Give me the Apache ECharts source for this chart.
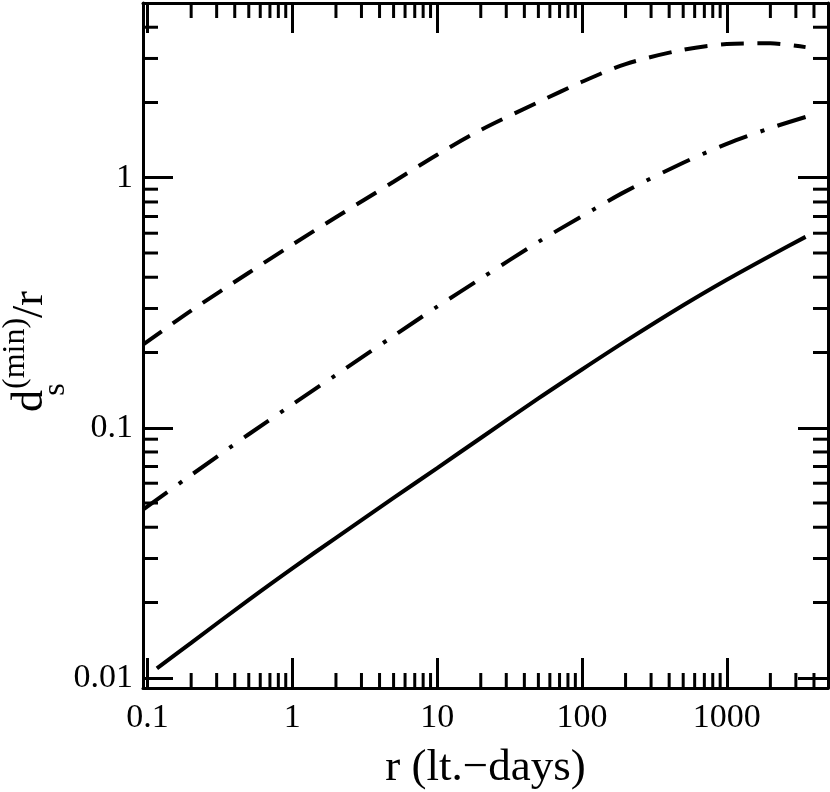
<!DOCTYPE html>
<html>
<head>
<meta charset="utf-8">
<script src="https://cdn.jsdelivr.net/npm/echarts@6/dist/echarts.min.js"></script>
<style>
  html, body { margin: 0; padding: 0; background: #fff; }
  #chart { width: 830px; height: 792px; }
</style>
</head>
<body>
<div id="chart"></div>
<script>
// axis ranges (both log)
var xRange = [0.093, 5000];
var yRange = [0.0091, 5];
var minorSteps = [2, 3, 4, 5, 6, 7, 8, 9];

// curves: r (lt.-days) and d_s(min)/r
var solidR = [0.116, 0.2, 0.5, 1, 2, 5, 10, 20, 50, 100, 200, 500, 1000, 2000, 3500];
var solidD = [0.0109, 0.0138, 0.0205, 0.0274, 0.0363, 0.0524, 0.069, 0.091, 0.131, 0.171, 0.222, 0.309, 0.391, 0.488, 0.58];

var dashR = [0.093, 0.2, 0.5, 1, 2, 5, 10, 20, 50, 100, 200, 500, 1000, 2000, 3500];
var dashD = [0.215, 0.294, 0.417, 0.540, 0.695, 0.964, 1.236, 1.552, 2.006, 2.42, 2.848, 3.252, 3.425, 3.449, 3.33];

var dotR = [0.093, 0.2, 0.5, 1, 2, 5, 10, 20, 50, 100, 200, 500, 1000, 2000, 3500];
var dotD = [0.0471, 0.0647, 0.0942, 0.124, 0.1626, 0.233, 0.305, 0.395, 0.554, 0.702, 0.882, 1.148, 1.365, 1.58, 1.75];

var FONT = 'Liberation Serif';

function pairs(xs, ys) {
  return xs.map(function (x, i) { return [x, ys[i]]; });
}

// minor tick positions 2..9 x 10^k inside a range
function minorTicks(range) {
  var out = [];
  for (var k = -3; k <= 4; k++) {
    minorSteps.forEach(function (m) {
      var v = m * Math.pow(10, k);
      if (v > range[0] && v < range[1]) out.push(v);
    });
  }
  return out;
}

function fmt(v) {
  return String(+(+v).toPrecision(4));
}

var tickStyle = { color: '#000', width: 3 };
var lineStyleAxis = { color: '#000', width: 3 };
var labelStyle = { fontFamily: FONT, fontSize: 34, color: '#000' };

function xMinorItem(params, api) {
  var v = api.value(0);
  var b = api.coord([v, yRange[0]]);
  var t = api.coord([v, yRange[1]]);
  var st = { stroke: '#000', lineWidth: 3 };
  return {
    type: 'group',
    children: [
      { type: 'line', shape: { x1: b[0], y1: b[1], x2: b[0], y2: b[1] - 15 }, style: st },
      { type: 'line', shape: { x1: t[0], y1: t[1], x2: t[0], y2: t[1] + 15 }, style: st }
    ]
  };
}

function yMinorItem(params, api) {
  var v = api.value(1);
  var l = api.coord([xRange[0], v]);
  var r = api.coord([xRange[1], v]);
  var st = { stroke: '#000', lineWidth: 3 };
  return {
    type: 'group',
    children: [
      { type: 'line', shape: { x1: l[0], y1: l[1], x2: l[0] + 15, y2: l[1] }, style: st },
      { type: 'line', shape: { x1: r[0], y1: r[1], x2: r[0] - 15, y2: r[1] }, style: st }
    ]
  };
}

var chart = echarts.init(document.getElementById('chart'));

var option = {
  backgroundColor: '#ffffff',
  animation: false,
  grid: { left: 143, right: 2, top: 3, bottom: 104, containLabel: false, outerBoundsMode: 'none' },
  xAxis: [{
    type: 'log',
    min: xRange[0],
    max: xRange[1],
    position: 'bottom',
    axisLine: { lineStyle: lineStyleAxis },
    axisTick: { inside: true, length: 30, lineStyle: tickStyle },
    axisLabel: Object.assign({ margin: 13, showMinLabel: false, showMaxLabel: false, formatter: fmt }, labelStyle),
    splitLine: { show: false },
    name: 'r (lt.\u2212days)',
    nameLocation: 'middle',
    nameGap: 58,
    nameMoveOverlap: false,
    nameTextStyle: { fontFamily: FONT, fontSize: 45, color: '#000' }
  }, {
    type: 'log',
    min: xRange[0],
    max: xRange[1],
    position: 'top',
    axisLine: { lineStyle: lineStyleAxis },
    axisTick: { inside: true, length: 30, lineStyle: tickStyle },
    axisLabel: { show: false },
    splitLine: { show: false }
  }],
  yAxis: [{
    type: 'log',
    min: yRange[0],
    max: yRange[1],
    position: 'left',
    axisLine: { lineStyle: lineStyleAxis },
    axisTick: { inside: true, length: 30, lineStyle: tickStyle },
    axisLabel: Object.assign({ margin: 10, showMinLabel: false, showMaxLabel: false, formatter: fmt }, labelStyle),
    splitLine: { show: false },
    name: '{d|d}{s|s}{m|(min)}{r|/r}',
    nameLocation: 'middle',
    nameRotate: 90,
    nameGap: 71,
    nameMoveOverlap: false,
    nameTextStyle: {
      fontFamily: FONT,
      color: '#000',
      padding: [0, 12, 0, 0],
      rich: {
        d: { fontFamily: FONT, fontSize: 44, color: '#000' },
        s: { fontFamily: FONT, fontSize: 32, color: '#000', width: 1, padding: [52, 0, 0, 0] },
        m: { fontFamily: FONT, fontSize: 32, color: '#000', padding: [0, 0, 28, 0] },
        r: { fontFamily: FONT, fontSize: 44, color: '#000' }
      }
    }
  }, {
    type: 'log',
    min: yRange[0],
    max: yRange[1],
    position: 'right',
    axisLine: { lineStyle: lineStyleAxis },
    axisTick: { inside: true, length: 30, lineStyle: tickStyle },
    axisLabel: { show: false },
    splitLine: { show: false }
  }],
  series: [{
    name: 'solid',
    type: 'line',
    data: pairs(solidR, solidD),
    smooth: 0.3,
    showSymbol: false,
    lineStyle: { color: '#000', width: 4, type: 'solid' }
  }, {
    name: 'dashed',
    type: 'line',
    data: pairs(dashR, dashD),
    smooth: 0.3,
    showSymbol: false,
    lineStyle: { color: '#000', width: 4, type: [23, 13.5], cap: 'butt' }
  }, {
    name: 'dashdot',
    type: 'line',
    data: pairs(dotR, dotD),
    smooth: 0.3,
    showSymbol: false,
    lineStyle: { color: '#000', width: 4, type: [30, 14, 4, 14], cap: 'butt' }
  }, {
    name: 'xminor',
    type: 'custom',
    silent: true,
    renderItem: xMinorItem,
    data: minorTicks(xRange).map(function (v) { return [v, yRange[0]]; })
  }, {
    name: 'yminor',
    type: 'custom',
    silent: true,
    renderItem: yMinorItem,
    data: minorTicks(yRange).map(function (v) { return [xRange[0], v]; })
  }]
};

chart.setOption(option);
</script>
</body>
</html>
